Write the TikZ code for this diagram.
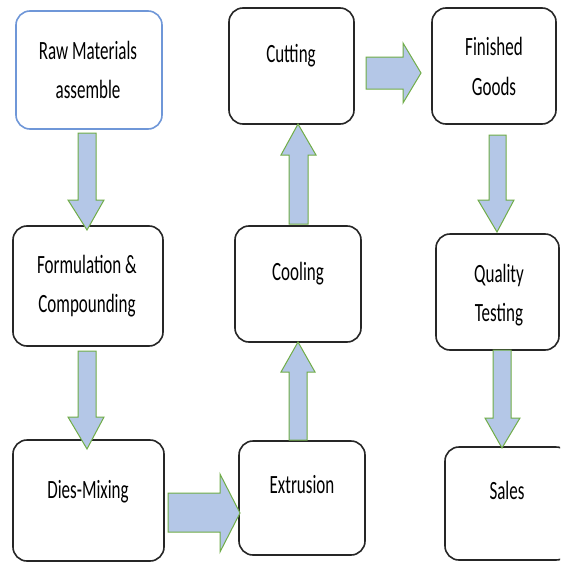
\documentclass[tikz,border=0pt]{standalone}
\usepackage{fontspec}
\setmainfont{Carlito}
\usepackage{graphicx}
\definecolor{arrfill}{HTML}{B4C7E7}
\definecolor{arredge}{HTML}{70AD47}
\definecolor{bluebd}{HTML}{6F97D8}
\definecolor{boxbd}{HTML}{262626}
\newcommand\stt[1]{\scalebox{1}[1.55]{#1}}
\tikzset{
  box/.style={draw=boxbd, line width=1.6pt, rounded corners=14pt, fill=white, inner sep=0pt},
  lbl/.style={anchor=base, inner sep=0pt, font=\fontsize{17}{20}\selectfont, text=black},
  barrow/.style={fill=arrfill, draw=arredge, line width=1pt, line join=miter}
}
% \bx{name}{left}{top}{right}{bottom}
\newcommand\bx[6][]{\node[box,#1, minimum width={(#5-#3)*1pt}, minimum height={(#6-#4)*1pt}] (#2) at ({(#3+#5)/2},{(#4+#6)/2}) {};}
% vertical arrow: x1 x2 (shaft), start y, head base y, hx1 hx2, tip x, tip y
\newcommand\varr[8]{\draw[barrow] (#1,#3) -- (#2,#3) -- (#2,#4) -- (#6,#4) -- (#7,#8) -- (#5,#4) -- (#1,#4) -- cycle;}
% horizontal arrow: y1 y2 (shaft), start x, head base x, hy1 hy2, tip x, tip y
\newcommand\harr[8]{\draw[barrow] (#3,#1) -- (#4,#1) -- (#4,#5) -- (#7,#8) -- (#4,#6) -- (#4,#2) -- (#3,#2) -- cycle;}
\begin{document}
\begin{tikzpicture}[x=1pt,y=-1pt]
\useasboundingbox (0,0) rectangle (560,562);
\clip (0,0) rectangle (560,562);
\fill[white] (0,0) rectangle (560,562);
% boxes
\bx[draw=bluebd]{raw}{16}{11}{162}{129}
\bx{form}{13}{226}{163}{346}
\bx{dies}{13}{440}{164}{561}
\bx{cut}{229}{8}{354}{124}
\bx{cool}{235}{226}{361}{342}
\bx{ext}{239}{441}{365}{555}
\bx{fin}{432}{8}{556}{124}
\bx{qual}{436}{234}{559}{350}
\bx{sales}{445}{447}{570}{560}
% labels
\node[lbl] (rawA) at (88,59) {\stt{Raw Materials}};
\node[lbl] (rawB) at (88,98) {\stt{assemble}};
\node[lbl] (formA) at (87,273) {\stt{Formulation \&}};
\node[lbl] (formB) at (87,312) {\stt{Compounding}};
\node[lbl] (diesT) at (88,498) {\stt{Dies-Mixing}};
\node[lbl] (cutT) at (291,62) {\stt{Cutting}};
\node[lbl] (coolT) at (298,280) {\stt{Cooling}};
\node[lbl] (extT) at (302,493) {\stt{Extrusion}};
\node[lbl] (finA) at (494,55) {\stt{Finished}};
\node[lbl] (finB) at (494,95) {\stt{Goods}};
\node[lbl] (qualA) at (499,282) {\stt{Quality}};
\node[lbl] (qualB) at (499,321) {\stt{Testing}};
\node[lbl] (salesT) at (507,499) {\stt{Sales}};
% block arrows
\varr{78}{96}{133}{200}{68}{104}{87}{230}
\varr{78}{96}{351}{417}{68}{104}{87}{449}
\harr{493}{532}{168}{220}{474}{552}{240}{513}
\varr{289}{307}{440}{372}{281}{315}{298}{342}
\varr{289}{308}{224}{155}{281}{316}{298}{124}
\harr{57}{89}{366}{403}{43}{103}{421}{73}
\varr{489}{506}{135}{200}{478}{514}{497}{232}
\varr{493}{511}{350}{418}{485}{520}{502}{448}
\end{tikzpicture}
\end{document}
